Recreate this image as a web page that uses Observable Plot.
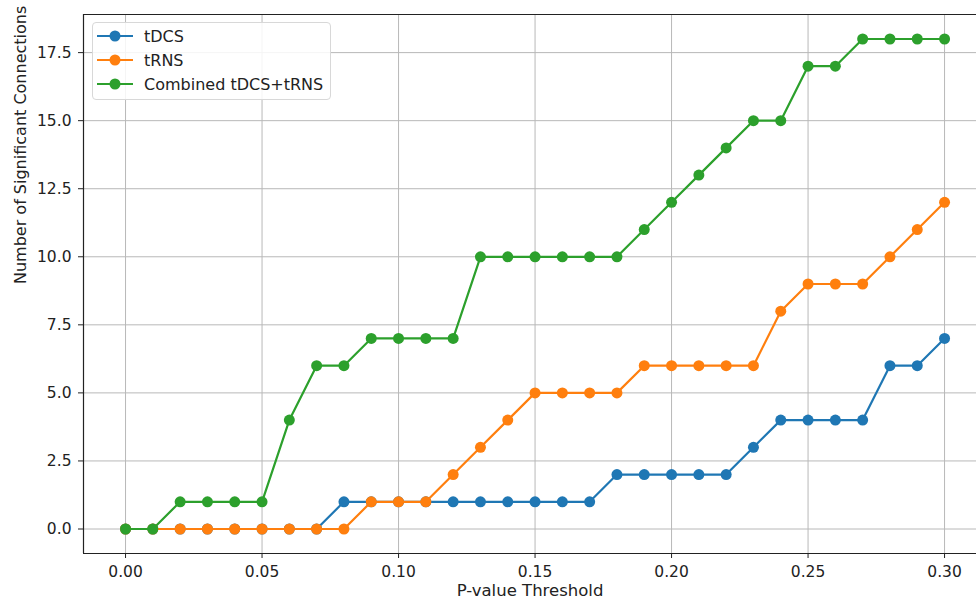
<!DOCTYPE html>
<html><head><meta charset="utf-8">
<script src="https://cdn.jsdelivr.net/npm/d3@7"></script>
<script src="https://cdn.jsdelivr.net/npm/@observablehq/plot@0.6"></script>
<style>
html,body{margin:0;padding:0;overflow:hidden;background:#fff;}
#wrap{position:relative;width:976px;height:599px;font-family:"DejaVu Sans",sans-serif;}
#legend{position:absolute;left:92px;top:22px;width:239px;height:78px;border:1px solid #d8d8d8;border-radius:4px;background:rgba(255,255,255,0.85);box-sizing:border-box;}
.row{position:absolute;left:0;height:20px;display:flex;align-items:center;font-size:16px;color:#222;}
.row svg{margin-left:4px;margin-right:11px;}
</style></head><body><div id="wrap"></div>
<script>
const thresholds = [0.00,0.01,0.02,0.03,0.04,0.05,0.06,0.07,0.08,0.09,0.10,0.11,0.12,0.13,0.14,0.15,0.16,0.17,0.18,0.19,0.20,0.21,0.22,0.23,0.24,0.25,0.26,0.27,0.28,0.29,0.30];
const tDCS     = [0,0,0,0,0,0,0,0,1,1,1,1,1,1,1,1,1,1,2,2,2,2,2,3,4,4,4,4,6,6,7];
const tRNS     = [0,0,0,0,0,0,0,0,0,1,1,1,2,3,4,5,5,5,5,6,6,6,6,6,8,9,9,9,10,11,12];
const combined = [0,0,1,1,1,1,4,6,6,7,7,7,7,10,10,10,10,10,10,11,12,13,14,15,15,17,17,18,18,18,18];
const seriesNames = ["tDCS","tRNS","Combined tDCS+tRNS"];
const seriesColors = ["#1f77b4","#ff7f0e","#2ca02c"];
const xTicks = [0.00,0.05,0.10,0.15,0.20,0.25,0.30];
const yTicks = [0.0,2.5,5.0,7.5,10.0,12.5,15.0,17.5];
const xLabel = "P-value Threshold";
const yLabel = "Number of Significant Connections";

const seriesValues = [tDCS, tRNS, combined];
const rows = [];
seriesNames.forEach((name, i) => thresholds.forEach((t, j) => rows.push({series: name, x: t, y: seriesValues[i][j]})));

const xDomain = [-0.0154, 0.3117];
const yDomain = [-0.9, 18.9];

const marks = [
  Plot.ruleX(xTicks, {stroke: "#b8b8b8", strokeWidth: 1}),
  Plot.ruleY(yTicks, {stroke: "#b8b8b8", strokeWidth: 1}),
];
seriesNames.forEach(name => {
  const d = rows.filter(r => r.series === name);
  marks.push(Plot.line(d, {x: "x", y: "y", stroke: "series", strokeWidth: 2.2}));
  marks.push(Plot.dot(d, {x: "x", y: "y", fill: "series", r: 5.5, stroke: "none"}));
});
marks.push(
  Plot.ruleX([xDomain[0]], {stroke: "#222", strokeWidth: 1.2}),
  Plot.ruleY([yDomain[0], yDomain[1]], {stroke: "#222", strokeWidth: 1.2}),
  Plot.axisX(xTicks, {tickFormat: d => d.toFixed(2), tickSize: 5, tickPadding: 7, fontSize: 15.5, label: null, stroke: "#222"}),
  Plot.axisY(yTicks, {tickFormat: d => d.toFixed(1), tickSize: 5, tickPadding: 7, fontSize: 15.5, label: null, stroke: "#222"}),
  Plot.text([xLabel], {frameAnchor: "bottom", dy: 42, fontSize: 16.5, fill: "#222"}),
  Plot.text([yLabel], {frameAnchor: "left", dx: -63, rotate: -90, fontSize: 16, fill: "#222"})
);

const chart = Plot.plot({
  width: 976, height: 599,
  marginLeft: 83, marginRight: 0, marginTop: 14, marginBottom: 46,
  style: {fontFamily: "DejaVu Sans, sans-serif", color: "#222", background: "#fff", overflow: "hidden"},
  x: {domain: xDomain},
  y: {domain: yDomain},
  color: {domain: seriesNames, range: seriesColors},
  marks
});
const wrap = document.getElementById("wrap");
wrap.appendChild(chart);

const legend = document.createElement("div");
legend.id = "legend";
seriesNames.forEach((name, i) => {
  const row = document.createElement("div");
  row.className = "row";
  row.style.top = (3 + i * 24) + "px";
  row.innerHTML = `<svg width="36" height="14"><line x1="0" y1="7" x2="36" y2="7" stroke="${seriesColors[i]}" stroke-width="2.2"/><circle cx="18" cy="7" r="5.5" fill="${seriesColors[i]}"/></svg><span>${name}</span>`;
  legend.appendChild(row);
});
wrap.appendChild(legend);
</script></body></html>
